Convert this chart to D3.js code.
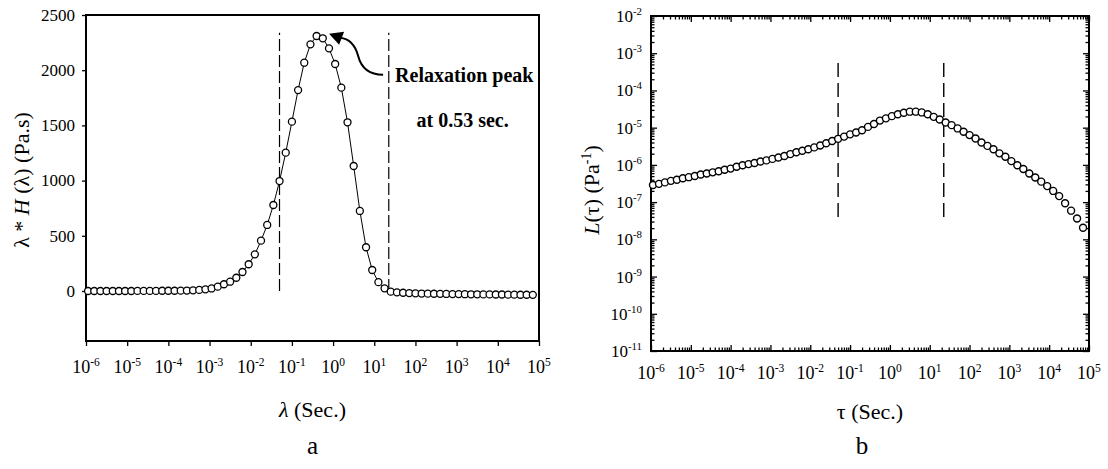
<!DOCTYPE html>
<html>
<head>
<meta charset="utf-8">
<script src="https://cdn.jsdelivr.net/npm/d3@7"></script>
<style>
    body { margin: 0; background: #fff; }
    svg text { font-family: "Liberation Serif", "Times New Roman", serif; fill: #000; }
</style>
</head>
<body>
<svg id="chart" width="1108" height="469"></svg>
<script>
"use strict";

//
//   DATA
//

// Relaxation / retardation times (s), shared by both panels
var timeValues = [
    1.122e-6, 1.585e-6, 2.239e-6, 3.162e-6, 4.467e-6, 6.310e-6, 8.913e-6,
    1.259e-5, 1.778e-5, 2.512e-5, 3.548e-5, 5.012e-5, 7.079e-5,
    1.000e-4, 1.413e-4, 1.995e-4, 2.818e-4, 3.981e-4, 5.623e-4, 7.943e-4,
    1.122e-3, 1.585e-3, 2.239e-3, 3.162e-3, 4.467e-3, 6.310e-3, 8.913e-3,
    1.259e-2, 1.778e-2, 2.512e-2, 3.548e-2, 5.012e-2, 7.079e-2,
    0.1000, 0.1413, 0.1995, 0.2818, 0.3981, 0.5623, 0.7943,
    1.122, 1.585, 2.239, 3.162, 4.467, 6.310, 8.913,
    12.59, 17.78, 25.12, 35.48, 50.12, 70.79,
    100.0, 141.3, 199.5, 281.8, 398.1, 562.3, 794.3,
    1122, 1585, 2239, 3162, 4467, 6310, 8913,
    12590, 17780, 25120, 35480, 50120, 70790
];

// Panel a: lambda * H(lambda) (Pa.s)
var spectrumValues = [
    0, 0, 0, 0, 0, 0, 0, 0, 1, 1, 1, 1, 2, 2, 2,
    3, 4, 6, 10, 15, 23, 39, 61, 84, 120, 172, 242, 332, 456, 598, 779,
    996, 1253, 1534, 1820, 2068, 2234, 2310, 2289, 2198, 2056, 1842, 1528, 1132, 725, 396, 190, 80, 24,
    -6, -12, -16, -19, -21, -23, -24, -25, -26, -27, -28, -28, -29, -30, -30, -31, -31, -32, -32, -33, -33, -34, -34, -35
];

// Panel b: L(tau) (1/Pa)
var retardationValues = [
    2.88e-7, 3.09e-7, 3.39e-7, 3.72e-7, 3.98e-7, 4.37e-7, 4.68e-7, 5.01e-7, 5.50e-7, 5.89e-7,
    6.31e-7, 6.76e-7, 7.41e-7, 7.94e-7, 8.91e-7, 9.77e-7, 1.05e-6, 1.12e-6, 1.23e-6, 1.32e-6,
    1.45e-6, 1.58e-6, 1.74e-6, 1.95e-6, 2.19e-6, 2.40e-6, 2.63e-6, 2.95e-6, 3.31e-6, 3.80e-6,
    4.37e-6, 5.01e-6, 5.75e-6, 6.61e-6, 7.41e-6, 8.51e-6, 1.05e-5, 1.26e-5, 1.55e-5, 1.78e-5,
    2.04e-5, 2.29e-5, 2.51e-5, 2.69e-5, 2.69e-5, 2.57e-5, 2.29e-5, 1.95e-5, 1.66e-5, 1.38e-5,
    1.17e-5, 9.55e-6, 7.76e-6, 6.31e-6, 5.13e-6, 3.98e-6, 3.24e-6, 2.63e-6, 2.04e-6, 1.66e-6,
    1.26e-6, 9.77e-7, 7.76e-7, 5.89e-7, 4.57e-7, 3.55e-7, 2.69e-7, 2.00e-7, 1.45e-7, 9.33e-8,
    5.89e-8, 3.63e-8, 2.04e-8
];

var timeTickExponents = [-6, -5, -4, -3, -2, -1, 0, 1, 2, 3, 4, 5];
var spectrumTicks = [0, 500, 1000, 1500, 2000, 2500];
var complianceTickExponents = [-2, -3, -4, -5, -6, -7, -8, -9, -10, -11];

// Dashed window limits (s) and their vertical extent per panel
var windowTimes = [0.05, 22.5];
var windowSpanA = [0, 2340];
var windowSpanB = [4e-8, 5.5e-4];

// Peak annotation (data coords of arrow tip)
var peakTip = [0.8, 2330];
var peakLines = ["Relaxation peak", "at 0.53 sec."];


//
//   LAYOUT
//

var A = { left: 86, right: 539, top: 15, bottom: 341 };
var B = { left: 651, right: 1089, top: 16, bottom: 351 };

var svg = d3.select("#chart");
svg.append("rect").attr("width", 1108).attr("height", 469).attr("fill", "#fff");

var xA = d3.scaleLog().domain([1e-6, 1e5]).range([A.left, A.right]);
var yA = d3.scaleLinear().domain([-453, 2500]).range([A.bottom, A.top]);
var xB = d3.scaleLog().domain([1e-6, 1e5]).range([B.left, B.right]);
var yB = d3.scaleLog().domain([1e-11, 1e-2]).range([B.bottom, B.top]);

var timeTicks = timeTickExponents.map(function (e) { return Math.pow(10, e); });
var complianceTicks = complianceTickExponents.map(function (e) { return Math.pow(10, e); });

function minorTicks(lo, hi) {
    var out = [];
    for (var e = lo; e < hi; e++) {
        for (var m = 2; m <= 9; m++) out.push(m * Math.pow(10, e));
    }
    return out;
}

function translate(x, y) {
    return "translate(" + x + "," + y + ")";
}

function cleanAxis(g) {
    g.select(".domain").remove();
    g.selectAll(".tick line").attr("stroke", "#000").attr("stroke-width", 1.3);
    g.selectAll(".tick text").remove();
}

// "10" with a raised exponent
function powerLabel(text, exp, size) {
    text.append("tspan").text("10");
    text.append("tspan").attr("dy", -7).attr("font-size", size * 0.64).text(exp);
}


//
//   PANEL A
//

var gA = svg.append("g");

gA.append("g").attr("transform", translate(0, A.bottom))
    .call(d3.axisBottom(xA).tickValues(timeTicks).tickSize(5))
    .call(cleanAxis);

gA.append("g").attr("transform", translate(A.left, 0))
    .call(d3.axisLeft(yA).tickValues(spectrumTicks).tickSize(4))
    .call(cleanAxis);

timeTickExponents.forEach(function (e) {
    var t = gA.append("text")
        .attr("x", xA(Math.pow(10, e)))
        .attr("y", A.bottom + 32)
        .attr("text-anchor", "middle")
        .attr("font-size", 18);
    powerLabel(t, String(e), 18);
});

spectrumTicks.forEach(function (v) {
    gA.append("text")
        .attr("x", A.left - 11)
        .attr("y", yA(v))
        .attr("dy", "0.34em")
        .attr("text-anchor", "end")
        .attr("font-size", 17)
        .text(v);
});

gA.append("rect")
    .attr("x", A.left).attr("y", A.top)
    .attr("width", A.right - A.left).attr("height", A.bottom - A.top)
    .attr("fill", "none").attr("stroke", "#000").attr("stroke-width", 2);

windowTimes.forEach(function (t) {
    gA.append("line")
        .attr("x1", xA(t)).attr("x2", xA(t))
        .attr("y1", yA(windowSpanA[0])).attr("y2", yA(windowSpanA[1]))
        .attr("stroke", "#000").attr("stroke-width", 1.2)
        .attr("stroke-dasharray", "12,4");
});

var pointsA = timeValues.map(function (t, i) { return [t, spectrumValues[i]]; });

gA.append("path")
    .attr("d", d3.line().x(function (d) { return xA(d[0]); }).y(function (d) { return yA(d[1]); })(pointsA))
    .attr("fill", "none").attr("stroke", "#000").attr("stroke-width", 1);

gA.selectAll("circle.pt").data(pointsA).enter().append("circle")
    .attr("class", "pt")
    .attr("cx", function (d) { return xA(d[0]); })
    .attr("cy", function (d) { return yA(d[1]); })
    .attr("r", 3.5)
    .attr("fill", "#fff").attr("stroke", "#000").attr("stroke-width", 1.3);

// Peak arrow
var tx = xA(peakTip[0]), ty = yA(peakTip[1]);
gA.append("path")
    .attr("d", "M" + (tx + 54) + "," + (ty + 41) +
        "C" + (tx + 40) + "," + (ty + 41) + " " + (tx + 32) + "," + (ty + 34) + " " + (tx + 29) + "," + (ty + 22) +
        "C" + (tx + 26) + "," + (ty + 11) + " " + (tx + 20) + "," + (ty + 5) + " " + (tx + 11) + "," + (ty + 4))
    .attr("fill", "none").attr("stroke", "#000").attr("stroke-width", 2);
gA.append("path")
    .attr("d", "M" + tx + "," + ty + "L" + (tx + 15) + "," + (ty - 2) + "L" + (tx + 10) + "," + (ty + 11) + "Z")
    .attr("fill", "#000");

gA.append("text")
    .attr("x", xA(32)).attr("y", yA(1895))
    .attr("font-size", 20).attr("font-weight", "bold")
    .text(peakLines[0]);
gA.append("text")
    .attr("x", xA(1400)).attr("y", yA(1490))
    .attr("text-anchor", "middle")
    .attr("font-size", 20).attr("font-weight", "bold")
    .text(peakLines[1]);

// Titles
var xtA = gA.append("text")
    .attr("x", (A.left + A.right) / 2).attr("y", 417)
    .attr("text-anchor", "middle").attr("font-size", 22);
xtA.append("tspan").attr("font-style", "italic").text("λ");
xtA.append("tspan").text(" (Sec.)");

var ytA = gA.append("text")
    .attr("transform", translate(29, 180) + " rotate(-90)")
    .attr("text-anchor", "middle").attr("font-size", 22);
ytA.append("tspan").text("λ * ");
ytA.append("tspan").attr("font-style", "italic").text("H");
ytA.append("tspan").text(" (λ) (Pa.s)");

gA.append("text")
    .attr("x", (A.left + A.right) / 2).attr("y", 454)
    .attr("text-anchor", "middle").attr("font-size", 25)
    .text("a");


//
//   PANEL B
//

var gB = svg.append("g");

var minorX = minorTicks(-6, 5);
var minorY = minorTicks(-11, -2);

[
    [d3.axisBottom, xB, translate(0, B.bottom), minorX, timeTicks],
    [d3.axisTop, xB, translate(0, B.top), minorX, timeTicks],
    [d3.axisLeft, yB, translate(B.left, 0), minorY, complianceTicks],
    [d3.axisRight, yB, translate(B.right, 0), minorY, complianceTicks]
].forEach(function (a) {
    gB.append("g").attr("transform", a[2])
        .call(a[0](a[1]).tickValues(a[3]).tickSize(-3.5))
        .call(cleanAxis);
    gB.append("g").attr("transform", a[2])
        .call(a[0](a[1]).tickValues(a[4]).tickSize(-6))
        .call(cleanAxis);
});

timeTickExponents.forEach(function (e) {
    var t = gB.append("text")
        .attr("x", xB(Math.pow(10, e)))
        .attr("y", B.bottom + 28)
        .attr("text-anchor", "middle")
        .attr("font-size", 18);
    powerLabel(t, String(e), 18);
});

complianceTickExponents.forEach(function (e) {
    var t = gB.append("text")
        .attr("x", B.left - 9)
        .attr("y", yB(Math.pow(10, e)) + 6)
        .attr("text-anchor", "end")
        .attr("font-size", 17);
    powerLabel(t, String(e), 17);
});

gB.append("rect")
    .attr("x", B.left).attr("y", B.top)
    .attr("width", B.right - B.left).attr("height", B.bottom - B.top)
    .attr("fill", "none").attr("stroke", "#000").attr("stroke-width", 2);

windowTimes.forEach(function (t) {
    gB.append("line")
        .attr("x1", xB(t)).attr("x2", xB(t))
        .attr("y1", yB(windowSpanB[0])).attr("y2", yB(windowSpanB[1]))
        .attr("stroke", "#000").attr("stroke-width", 1.4)
        .attr("stroke-dasharray", "14,6");
});

var pointsB = timeValues.map(function (t, i) { return [t, retardationValues[i]]; });

gB.selectAll("circle.pt").data(pointsB).enter().append("circle")
    .attr("class", "pt")
    .attr("cx", function (d) { return xB(d[0]); })
    .attr("cy", function (d) { return yB(d[1]); })
    .attr("r", 3.5)
    .attr("fill", "#fff").attr("stroke", "#000").attr("stroke-width", 1.4);

// Titles
gB.append("text")
    .attr("x", (B.left + B.right) / 2).attr("y", 419)
    .attr("text-anchor", "middle").attr("font-size", 22)
    .text("τ (Sec.)");

var ytB = gB.append("text")
    .attr("transform", translate(599, 190) + " rotate(-90)")
    .attr("text-anchor", "middle").attr("font-size", 22);
ytB.append("tspan").attr("font-style", "italic").text("L");
ytB.append("tspan").text("(τ) (Pa");
ytB.append("tspan").attr("dy", -8).attr("font-size", 14).text("-1");
ytB.append("tspan").attr("dy", 8).text(")");

gB.append("text")
    .attr("x", 862).attr("y", 454)
    .attr("text-anchor", "middle").attr("font-size", 25)
    .text("b");
</script>
</body>
</html>
